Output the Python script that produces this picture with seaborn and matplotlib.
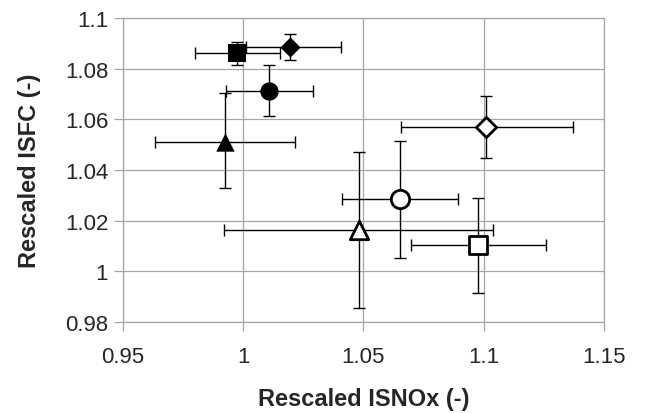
import numpy as np
import pandas as pd
import matplotlib
matplotlib.use("Agg")
import matplotlib.pyplot as plt
import seaborn as sns

# data
case = ["sq_f", "dia_f", "circ_f", "tri_f", "dia_o", "circ_o", "tri_o", "sq_o"]
isnox = [0.9976, 1.0193, 1.0107, 0.9925, 1.1011, 1.0651, 1.0480, 1.0975]
isnox_lo = [0.9800, 1.0014, 0.9929, 0.9633, 1.0657, 1.0413, 0.9922, 1.0696]
isnox_hi = [1.0153, 1.0407, 1.0292, 1.0217, 1.1371, 1.0893, 1.1039, 1.1258]
isfc = [1.0861, 1.0884, 1.0713, 1.0512, 1.0571, 1.0285, 1.0163, 1.0103]
isfc_lo = [1.0816, 1.0834, 1.0613, 1.0328, 1.0449, 1.0053, 0.9856, 0.9914]
isfc_hi = [1.0906, 1.0938, 1.0813, 1.0703, 1.0692, 1.0516, 1.0471, 1.0289]
filled = [True, True, True, True, False, False, False, False]

df = pd.DataFrame({"case": case, "isnox": isnox, "isfc": isfc, "filled": filled})
marker_map = {"sq_f": "s", "dia_f": "D", "circ_f": "o", "tri_f": "^",
              "dia_o": "D", "circ_o": "o", "tri_o": "^", "sq_o": "s"}
size_map = {"s": 175, "D": 105, "o": 175, "^": 175}

sns.set_style("white")
plt.rcParams['font.family'] = ['Liberation Sans', 'DejaVu Sans']

fig = plt.figure(figsize=(6.46, 4.14), dpi=100)
ax = fig.add_axes([0.190, 0.220, 0.745, 0.734])

gray = "#A6A6A6"

# error bars
x = np.array(isnox)
y = np.array(isfc)
xerr = [x - np.array(isnox_lo), np.array(isnox_hi) - x]
yerr = [y - np.array(isfc_lo), np.array(isfc_hi) - y]
ax.errorbar(x, y, xerr=xerr, yerr=yerr, fmt="none", ecolor="black",
            elinewidth=1.0, capsize=4.5, capthick=1.0, zorder=2)

# markers
for _, r in df.iterrows():
    m = marker_map[r["case"]]
    sns.scatterplot(x=[r["isnox"]], y=[r["isfc"]], marker=m, s=size_map[m],
                    color="black" if r["filled"] else "white",
                    edgecolor="black", linewidth=0 if r["filled"] else 2.0,
                    ax=ax, zorder=3, legend=False)

ax.set_xlim(0.95, 1.15)
ax.set_ylim(0.98, 1.1)
ax.set_xticks([0.95, 1.0, 1.05, 1.1, 1.15])
ax.set_xticklabels(["0.95", "1", "1.05", "1.1", "1.15"])
ax.set_yticks([0.98, 1.0, 1.02, 1.04, 1.06, 1.08, 1.1])
ax.set_yticklabels(["0.98", "1", "1.02", "1.04", "1.06", "1.08", "1.1"])

ax.grid(True, color=gray, linewidth=0.9)
ax.set_axisbelow(True)
for s in ax.spines.values():
    s.set_color(gray)
    s.set_linewidth(0.9)
ax.tick_params(axis="both", direction="out", length=6.5, width=0.9, color=gray,
               labelsize=16, bottom=True, left=True)
ax.tick_params(axis="x", pad=11)
ax.tick_params(axis="y", pad=4)

ax.set_xlabel("Rescaled ISNOx (-)", fontsize=17, fontweight="bold", labelpad=14)
ax.set_ylabel("Rescaled ISFC (-)", fontsize=17, fontweight="bold", labelpad=17)

fig.savefig("out.png", dpi=100)
